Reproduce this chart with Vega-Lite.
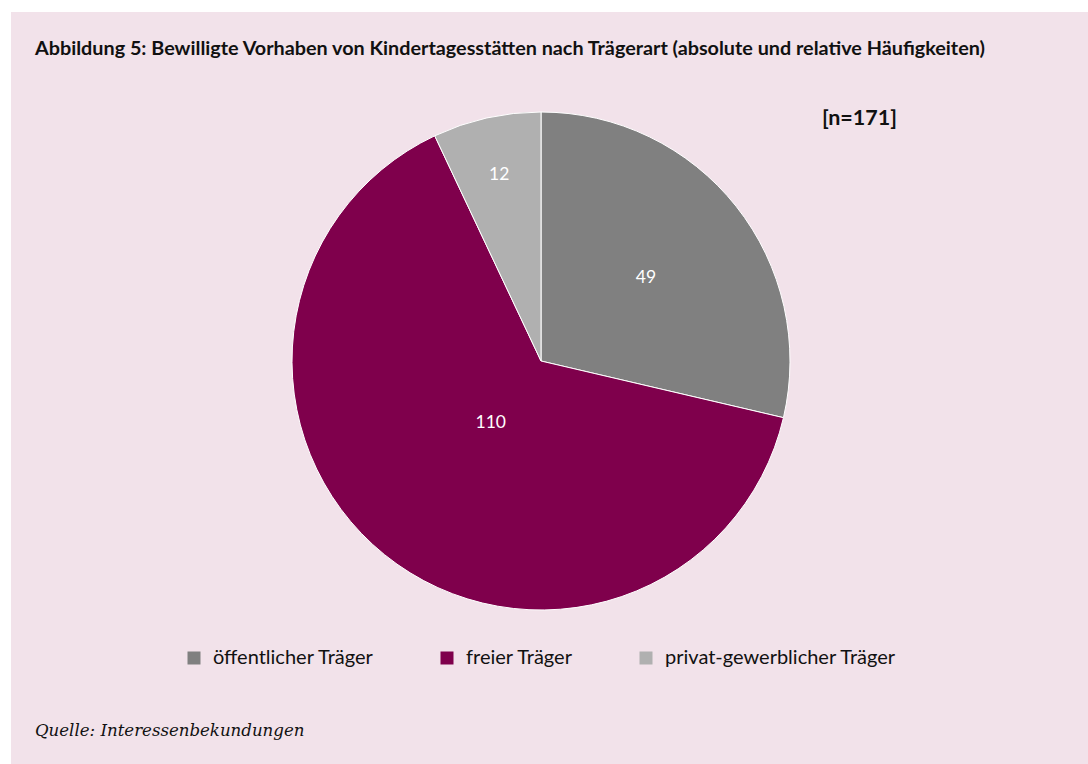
{
  "$schema": "https://vega.github.io/schema/vega-lite/v6.json",
  "autosize": {"type": "none"},
  "padding": {"left": 11, "top": 12, "right": 0, "bottom": 0},
  "width": 1077,
  "height": 752,
  "background": "#ffffff",
  "config": {
    "view": {"fill": "#f2e2ea", "stroke": null},
    "font": "Lato"
  },
  "title": {
    "text": "Abbildung 5: Bewilligte Vorhaben von Kindertagesstätten nach Trägerart (absolute und relative Häufigkeiten)",
    "anchor": "start",
    "frame": "group",
    "orient": "top",
    "offset": -47,
    "dx": 24,
    "font": "Lato",
    "fontSize": 19.8,
    "fontWeight": "bold",
    "color": "#111111",
    "limit": 1100
  },
  "data": {
    "values": [
      {"Träger": "öffentlicher Träger", "Anzahl": 49, "Rang": 1},
      {"Träger": "freier Träger", "Anzahl": 110, "Rang": 2},
      {"Träger": "privat-gewerblicher Träger", "Anzahl": 12, "Rang": 3}
    ]
  },
  "layer": [
    {
      "mark": {"type": "arc", "outerRadius": 249, "stroke": "#ffffff", "strokeWidth": 1},
      "encoding": {
        "x": {"value": 530},
        "y": {"value": 349},
        "theta": {"field": "Anzahl", "type": "quantitative", "stack": true},
        "order": {"field": "Rang", "type": "quantitative", "sort": "ascending"},
        "color": {
          "field": "Träger",
          "type": "nominal",
          "sort": ["öffentlicher Träger", "freier Träger", "privat-gewerblicher Träger"],
          "scale": {
            "domain": ["öffentlicher Träger", "freier Träger", "privat-gewerblicher Träger"],
            "range": ["#808080", "#7f004c", "#b0b0b0"]
          },
          "legend": {
            "title": null,
            "orient": "none",
            "direction": "horizontal",
            "legendX": 173,
            "legendY": 636,
            "symbolType": "square",
            "symbolSize": 169,
            "symbolStrokeWidth": 0,
            "labelFont": "Lato",
            "labelFontSize": 20,
            "labelLimit": 400,
            "labelColor": "#111111",
            "labelOffset": 9,
            "columnPadding": 63,
            "padding": 0
          }
        }
      }
    },
    {
      "mark": {"type": "text", "fontSize": 17.5, "font": "Lato", "fill": "#ffffff"},
      "encoding": {
        "x": {"value": 530},
        "y": {"value": 349},
        "theta": {"field": "Anzahl", "type": "quantitative", "stack": true},
        "order": {"field": "Rang", "type": "quantitative", "sort": "ascending"},
        "radius": {
          "field": "Anzahl",
          "type": "quantitative",
          "scale": {"type": "linear", "domain": [12, 49, 110], "range": [191, 134, 80], "zero": false}
        },
        "text": {"field": "Anzahl", "type": "quantitative"}
      }
    },
    {
      "data": {"values": [{"Hinweis": "[n=171]"}]},
      "mark": {"type": "text", "font": "Lato", "fontSize": 21.5, "fontWeight": "bold", "align": "left", "baseline": "middle", "color": "#111111"},
      "encoding": {
        "x": {"value": 811},
        "y": {"value": 107},
        "text": {"field": "Hinweis", "type": "nominal"}
      }
    },
    {
      "data": {"values": [{"Quelle": "Quelle: Interessenbekundungen"}]},
      "mark": {"type": "text", "font": "DejaVu Serif", "fontSize": 16.6, "fontStyle": "italic", "align": "left", "baseline": "middle", "color": "#111111"},
      "encoding": {
        "x": {"value": 24},
        "y": {"value": 719},
        "text": {"field": "Quelle", "type": "nominal"}
      }
    }
  ]
}
